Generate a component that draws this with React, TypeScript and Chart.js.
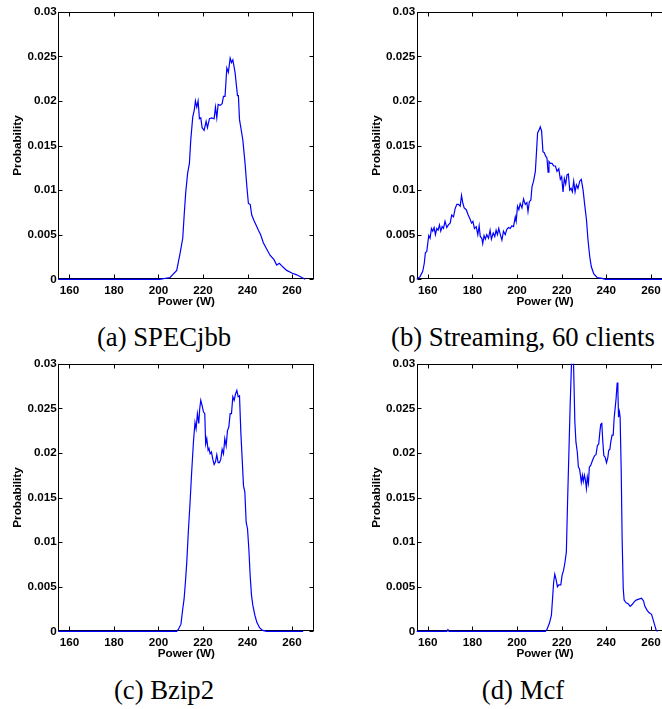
import React, { useEffect, useRef } from 'react';
import { Chart, registerables } from 'chart.js';

Chart.register(...registerables);

// ---------- data ----------
const xTickValues = [160, 180, 200, 220, 240, 260];
const yTickValues = [0, 0.005, 0.01, 0.015, 0.02, 0.025, 0.03];
const yTickLabels = ['0', '0.005', '0.01', '0.015', '0.02', '0.025', '0.03'];
const xTitle = 'Power (W)';
const yTitle = 'Probability';
const captions = ['(a) SPECjbb', '(b) Streaming, 60 clients', '(c) Bzip2', '(d) Mcf'];

const specjbbPower = [155, 200.5, 205.2, 208.2, 209.7, 210.9, 211.6, 212.2, 213.1, 213.9, 214.5, 215.4, 216.1, 216.6, 217.2, 217.8, 218.4, 219.0, 219.6, 220.5, 221.4, 222.0, 222.9, 223.9, 225.0, 225.6, 226.2, 226.8, 227.7, 228.6, 229.2, 229.9, 230.7, 231.4, 232.2, 232.8, 233.4, 234.4, 235.5, 235.9, 236.4, 237.0, 237.9, 238.9, 239.7, 240.4, 241.2, 241.9, 242.9, 244.2, 244.9, 245.9, 247.1, 248.6, 250.1, 251.9, 253.1, 254.3, 255.8, 257.6, 259.9, 262.1, 264.4, 265.9];
const specjbbProb = [0, 0, 0.0002, 0.001, 0.0029, 0.0046, 0.0074, 0.0096, 0.0119, 0.013, 0.0156, 0.0182, 0.019, 0.02, 0.0193, 0.02, 0.018, 0.0181, 0.017, 0.0167, 0.0177, 0.017, 0.018, 0.0181, 0.018, 0.0193, 0.0181, 0.0196, 0.0195, 0.0197, 0.0205, 0.0205, 0.0237, 0.0232, 0.0248, 0.0243, 0.0246, 0.0232, 0.0206, 0.0206, 0.0179, 0.017, 0.0156, 0.013, 0.0104, 0.0085, 0.0084, 0.0072, 0.0066, 0.0059, 0.0055, 0.005, 0.0041, 0.0034, 0.0027, 0.0022, 0.0016, 0.0018, 0.0014, 0.001, 0.0007, 0.0005, 0.0002, 0];

const streamingPower = [155, 156.5, 157.7, 158.4, 158.9, 159.5, 159.9, 160.4, 161.0, 161.6, 162.2, 162.8, 163.4, 164.0, 164.6, 165.2, 165.8, 166.4, 167.0, 167.7, 168.5, 169.2, 170.0, 170.7, 171.5, 172.2, 173.0, 173.7, 174.5, 175.1, 175.7, 176.3, 177.2, 178.1, 179.0, 179.6, 180.2, 180.9, 181.7, 182.4, 183.0, 183.5, 184.2, 184.6, 185.2, 185.8, 186.4, 187.2, 187.9, 188.5, 189.3, 190.0, 190.6, 191.2, 191.8, 192.4, 193.2, 193.9, 194.7, 195.4, 196.2, 196.9, 197.7, 198.4, 199.2, 199.6, 200.2, 200.8, 201.4, 202.2, 202.9, 203.7, 204.4, 204.9, 205.5, 206.2, 206.7, 207.4, 208.2, 208.6, 209.2, 209.8, 210.4, 211.0, 211.6, 212.2, 212.8, 213.4, 213.9, 214.3, 214.9, 215.7, 216.4, 217.2, 217.9, 218.7, 219.4, 220.0, 220.6, 221.2, 221.8, 222.4, 223.0, 223.6, 224.2, 224.8, 225.4, 226.0, 226.6, 227.3, 228.1, 228.8, 229.6, 230.3, 231.1, 231.8, 232.6, 233.3, 234.4, 235.9, 238.1, 239.6, 270];
const streamingProb = [0, 0.0003, 0.0009, 0.0018, 0.003, 0.0031, 0.0039, 0.0049, 0.0046, 0.0057, 0.0054, 0.0058, 0.005, 0.0057, 0.0055, 0.0061, 0.0054, 0.0059, 0.0057, 0.0065, 0.0058, 0.0061, 0.0063, 0.0072, 0.007, 0.0079, 0.0084, 0.0084, 0.0082, 0.0094, 0.0085, 0.008, 0.0078, 0.0072, 0.0067, 0.0063, 0.0065, 0.0057, 0.0059, 0.005, 0.006, 0.0048, 0.0046, 0.004, 0.0049, 0.0045, 0.005, 0.0046, 0.0055, 0.0045, 0.0052, 0.0048, 0.0055, 0.005, 0.0057, 0.0051, 0.0044, 0.0054, 0.005, 0.0056, 0.0058, 0.0057, 0.006, 0.0059, 0.007, 0.0065, 0.0082, 0.0078, 0.0085, 0.008, 0.009, 0.0084, 0.0086, 0.0076, 0.0087, 0.0089, 0.0104, 0.011, 0.0121, 0.0138, 0.0164, 0.0167, 0.0171, 0.0166, 0.0143, 0.0142, 0.0138, 0.0136, 0.012, 0.0132, 0.013, 0.013, 0.0127, 0.0127, 0.0121, 0.0124, 0.0112, 0.0115, 0.0098, 0.0113, 0.0107, 0.0117, 0.0118, 0.01, 0.0102, 0.0098, 0.011, 0.0098, 0.0106, 0.0102, 0.011, 0.0112, 0.01, 0.0084, 0.0067, 0.0044, 0.0025, 0.0014, 0.0006, 0.0002, 0.0001, 0, 0];

const bzip2Power = [155, 208.2, 208.9, 210.1, 210.9, 211.5, 212.1, 212.7, 213.4, 214.2, 214.9, 215.7, 216.4, 216.9, 217.5, 218.1, 218.5, 219.0, 219.6, 220.2, 220.8, 221.2, 221.7, 222.3, 222.7, 223.2, 223.8, 224.4, 225.0, 225.6, 226.2, 226.8, 227.4, 228.0, 228.6, 229.2, 229.8, 230.4, 231.0, 231.6, 232.2, 232.8, 233.4, 234.0, 234.6, 235.2, 235.8, 236.4, 237.0, 237.6, 238.2, 238.8, 239.4, 240.0, 240.6, 241.2, 241.8, 242.4, 243.3, 244.2, 245.4, 246.8, 248.6, 265];
const bzip2Prob = [0, 0, 0.0002, 0.0008, 0.0025, 0.0036, 0.0055, 0.0077, 0.0111, 0.0145, 0.0178, 0.0212, 0.0234, 0.0227, 0.0244, 0.0233, 0.0249, 0.0259, 0.0253, 0.0246, 0.0244, 0.021, 0.0216, 0.0203, 0.0205, 0.0199, 0.0201, 0.0193, 0.0187, 0.019, 0.0198, 0.0189, 0.0189, 0.0193, 0.0204, 0.0199, 0.0216, 0.0208, 0.0225, 0.0229, 0.0244, 0.0244, 0.0263, 0.0259, 0.0266, 0.027, 0.0263, 0.0264, 0.0223, 0.0193, 0.0163, 0.0156, 0.0122, 0.0115, 0.0092, 0.0062, 0.004, 0.0029, 0.0018, 0.001, 0.0004, 0.0001, 0, 0];

const mcfPower = [155, 168.5, 169.0, 169.5, 212.7, 213.4, 214.5, 215.4, 216.0, 216.4, 216.9, 217.5, 218.1, 218.7, 219.6, 220.2, 220.8, 221.4, 222.1, 222.6, 223.2, 223.8, 224.4, 225.0, 225.5, 225.9, 226.4, 227.0, 227.5, 228.0, 228.4, 228.8, 229.3, 229.7, 230.2, 230.6, 231.1, 231.5, 232.0, 232.4, 233.0, 233.6, 234.2, 234.8, 235.4, 236.0, 236.6, 237.1, 237.5, 238.0, 238.4, 238.9, 239.5, 240.1, 240.7, 241.1, 241.6, 242.0, 242.6, 243.1, 243.5, 244.0, 244.4, 244.9, 245.2, 245.5, 245.9, 246.2, 246.7, 247.1, 247.6, 248.0, 248.9, 249.8, 250.7, 251.6, 252.5, 253.4, 254.6, 255.8, 256.7, 257.3, 258.2, 259.1, 260.3, 260.9, 261.7, 262.4, 263.0];
const mcfProb = [0, 0, 0.0002, 0, 0, 0.0002, 0.0009, 0.0018, 0.004, 0.0055, 0.0064, 0.0058, 0.005, 0.0052, 0.0052, 0.0063, 0.0068, 0.0076, 0.0089, 0.0141, 0.0197, 0.0253, 0.03, 0.0335, 0.028, 0.0235, 0.0212, 0.0201, 0.0184, 0.0182, 0.0175, 0.0167, 0.0175, 0.0168, 0.0175, 0.017, 0.016, 0.0173, 0.0166, 0.0184, 0.0186, 0.019, 0.0194, 0.0197, 0.0198, 0.0208, 0.021, 0.0223, 0.0232, 0.0233, 0.0214, 0.0197, 0.0195, 0.0189, 0.0195, 0.0203, 0.0204, 0.0212, 0.022, 0.022, 0.0238, 0.0251, 0.0261, 0.0279, 0.027, 0.024, 0.0246, 0.024, 0.0179, 0.0104, 0.0048, 0.0035, 0.0032, 0.0031, 0.0028, 0.003, 0.0033, 0.0035, 0.0036, 0.0037, 0.0034, 0.0028, 0.0024, 0.0021, 0.0019, 0.0014, 0.0007, 0.0001, 0];

// ---------- layout/style ----------
const X_MIN = 155;
const X_MAX = 270;
const CANVAS_H = 315;
const PLOT_TOP = 11.7;
const PLOT_BOTTOM = 279.3;
const Y_AXIS_W = 58.3;
const FONT = { family: 'Liberation Sans, Arial, Helvetica, sans-serif', size: 11.7, weight: 'bold' as const, lineHeight: 1.2 };

const boxPlugin = {
  id: 'matlabBox',
  beforeDatasetsDraw(chart: any) {
    const { ctx, chartArea, scales } = chart;
    const { left, top, right, bottom } = chartArea;
    const x = scales.x;
    const y = scales.y;
    const L = 4;
    ctx.save();
    ctx.strokeStyle = '#000';
    ctx.lineWidth = 1;
    const l = Math.round(left) + 0.5;
    const r = Math.round(right) - 0.5;
    const t = Math.round(top) + 0.5;
    const b = Math.round(bottom) - 0.5;
    ctx.strokeRect(l, t, r - l, b - t);
    ctx.beginPath();
    for (const v of xTickValues) {
      const px = Math.round(x.getPixelForValue(v)) + 0.5;
      ctx.moveTo(px, b);
      ctx.lineTo(px, b - L);
      ctx.moveTo(px, t);
      ctx.lineTo(px, t + L);
    }
    for (const v of yTickValues) {
      const py = Math.round(y.getPixelForValue(v)) + 0.5;
      ctx.moveTo(l, py);
      ctx.lineTo(l + L, py);
      ctx.moveTo(r, py);
      ctx.lineTo(r - L, py);
    }
    ctx.stroke();
    ctx.restore();
  },
};

type PanelProps = {
  power: number[];
  prob: number[];
  left: number;
  top: number;
  canvasWidth: number;
  padLeft: number;
  padRight: number;
};

function Panel({ power, prob, left, top, canvasWidth, padLeft, padRight }: PanelProps) {
  const ref = useRef<HTMLCanvasElement>(null);
  useEffect(() => {
    const chart = new Chart(ref.current as HTMLCanvasElement, {
      type: 'line',
      data: {
        datasets: [
          {
            data: power.map((p, i) => ({ x: p, y: prob[i] })),
            borderColor: '#0000ff',
            borderWidth: 1.2,
            pointRadius: 0,
            tension: 0,
            fill: false,
            clip: { left: 2, top: 0, right: 2, bottom: 2 } as any,
          },
        ],
      },
      options: {
        animation: false,
        responsive: false,
        devicePixelRatio: 1,
        layout: { padding: { left: padLeft, right: padRight, top: PLOT_TOP, bottom: 0 } },
        plugins: { legend: { display: false }, tooltip: { enabled: false }, title: { display: false } },
        scales: {
          x: {
            type: 'linear',
            min: X_MIN,
            max: X_MAX,
            grid: { display: false, drawTicks: false },
            border: { display: false },
            afterBuildTicks: (s: any) => {
              s.ticks = xTickValues.map((v) => ({ value: v }));
            },
            afterFit: (s: any) => {
              s.height = CANVAS_H - PLOT_BOTTOM;
            },
            ticks: {
              padding: 4.7,
              color: '#000',
              font: FONT,
              maxRotation: 0,
              autoSkip: false,
              callback: (v: any) => String(v),
            },
            title: { display: true, text: xTitle, color: '#000', font: FONT, padding: { top: 0, bottom: 6.3 } },
          },
          y: {
            type: 'linear',
            min: 0,
            max: 0.03,
            grid: { display: false, drawTicks: false },
            border: { display: false },
            afterBuildTicks: (s: any) => {
              s.ticks = yTickValues.map((v) => ({ value: v }));
            },
            afterFit: (s: any) => {
              s.width = Y_AXIS_W;
            },
            ticks: {
              padding: 1.5,
              color: '#000',
              font: FONT,
              autoSkip: false,
              callback: (_v: any, i: number) => yTickLabels[i],
            },
            title: { display: true, text: yTitle, color: '#000', font: FONT, padding: { top: 10.9, bottom: 0 } },
          },
        },
      } as any,
      plugins: [boxPlugin],
    });
    return () => chart.destroy();
  }, []);
  return (
    <canvas
      ref={ref}
      width={canvasWidth}
      height={CANVAS_H}
      style={{ position: 'absolute', left, top, width: canvasWidth, height: CANVAS_H }}
    />
  );
}

const captionStyle: React.CSSProperties = {
  position: 'absolute',
  width: 320,
  textAlign: 'center',
  fontFamily: '"Liberation Serif", "Times New Roman", serif',
  fontSize: 26.7,
  lineHeight: 1,
  whiteSpace: 'nowrap',
  color: '#000',
};

export default function App() {
  const rowTop = [0, 351.6];
  return (
    <div
      style={{
        position: 'fixed',
        left: 0,
        top: 0,
        width: 662,
        height: 709,
        overflow: 'hidden',
        background: '#fff',
      }}
    >
      <Panel power={specjbbPower} prob={specjbbProb} left={0} top={rowTop[0]} canvasWidth={331} padLeft={0} padRight={16.7} />
      <Panel power={streamingPower} prob={streamingProb} left={331} top={rowTop[0]} canvasWidth={360} padLeft={27.4} padRight={17.8} />
      <Panel power={bzip2Power} prob={bzip2Prob} left={0} top={rowTop[1]} canvasWidth={331} padLeft={0} padRight={16.7} />
      <Panel power={mcfPower} prob={mcfProb} left={331} top={rowTop[1]} canvasWidth={360} padLeft={27.4} padRight={17.8} />
      <div style={{ ...captionStyle, left: 164 - 160, top: 323.7 }}>{captions[0]}</div>
      <div style={{ ...captionStyle, left: 523 - 160, top: 323.7 }}>{captions[1]}</div>
      <div style={{ ...captionStyle, left: 164 - 160, top: 676.7 }}>{captions[2]}</div>
      <div style={{ ...captionStyle, left: 523 - 160, top: 676.7 }}>{captions[3]}</div>
    </div>
  );
}
